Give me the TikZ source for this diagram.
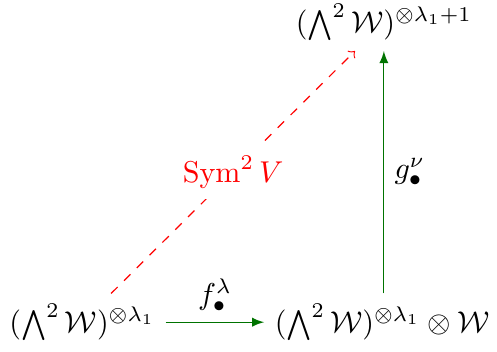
\documentclass[tikz,border=0pt]{standalone}
\usepackage{amsmath,amssymb}
\usetikzlibrary{arrows,positioning}
\definecolor{darkgreen}{rgb}{0.0, 0.45, 0.0}

\begin{document}
\begin{tikzpicture}
    \useasboundingbox (0,0) rectangle (5.80,4.10);
    \node (L) at (0.96,0.34) {$(\bigwedge^2\mathcal{W})^{\otimes\lambda_1}$};
    \node (R) at (4.46,0.34) {$(\bigwedge^2\mathcal{W})^{\otimes\lambda_1}\otimes\mathcal{W}$};
    \node (T) at (4.48,3.84) {$(\bigwedge^2\mathcal{W})^{\otimes\lambda_1+1}$};

    \draw[darkgreen,-latex] (L) -- node[above,black] {$f^\lambda_\bullet$} (R);
    \draw[darkgreen,-latex] (R.north -| T) -- node[right,black] {$g^\nu_\bullet$} (T);
    \draw[red,dashed,->] (L) -- node[fill=white] {$\operatorname{Sym}^2 V$} (T);
\end{tikzpicture}
\end{document}
